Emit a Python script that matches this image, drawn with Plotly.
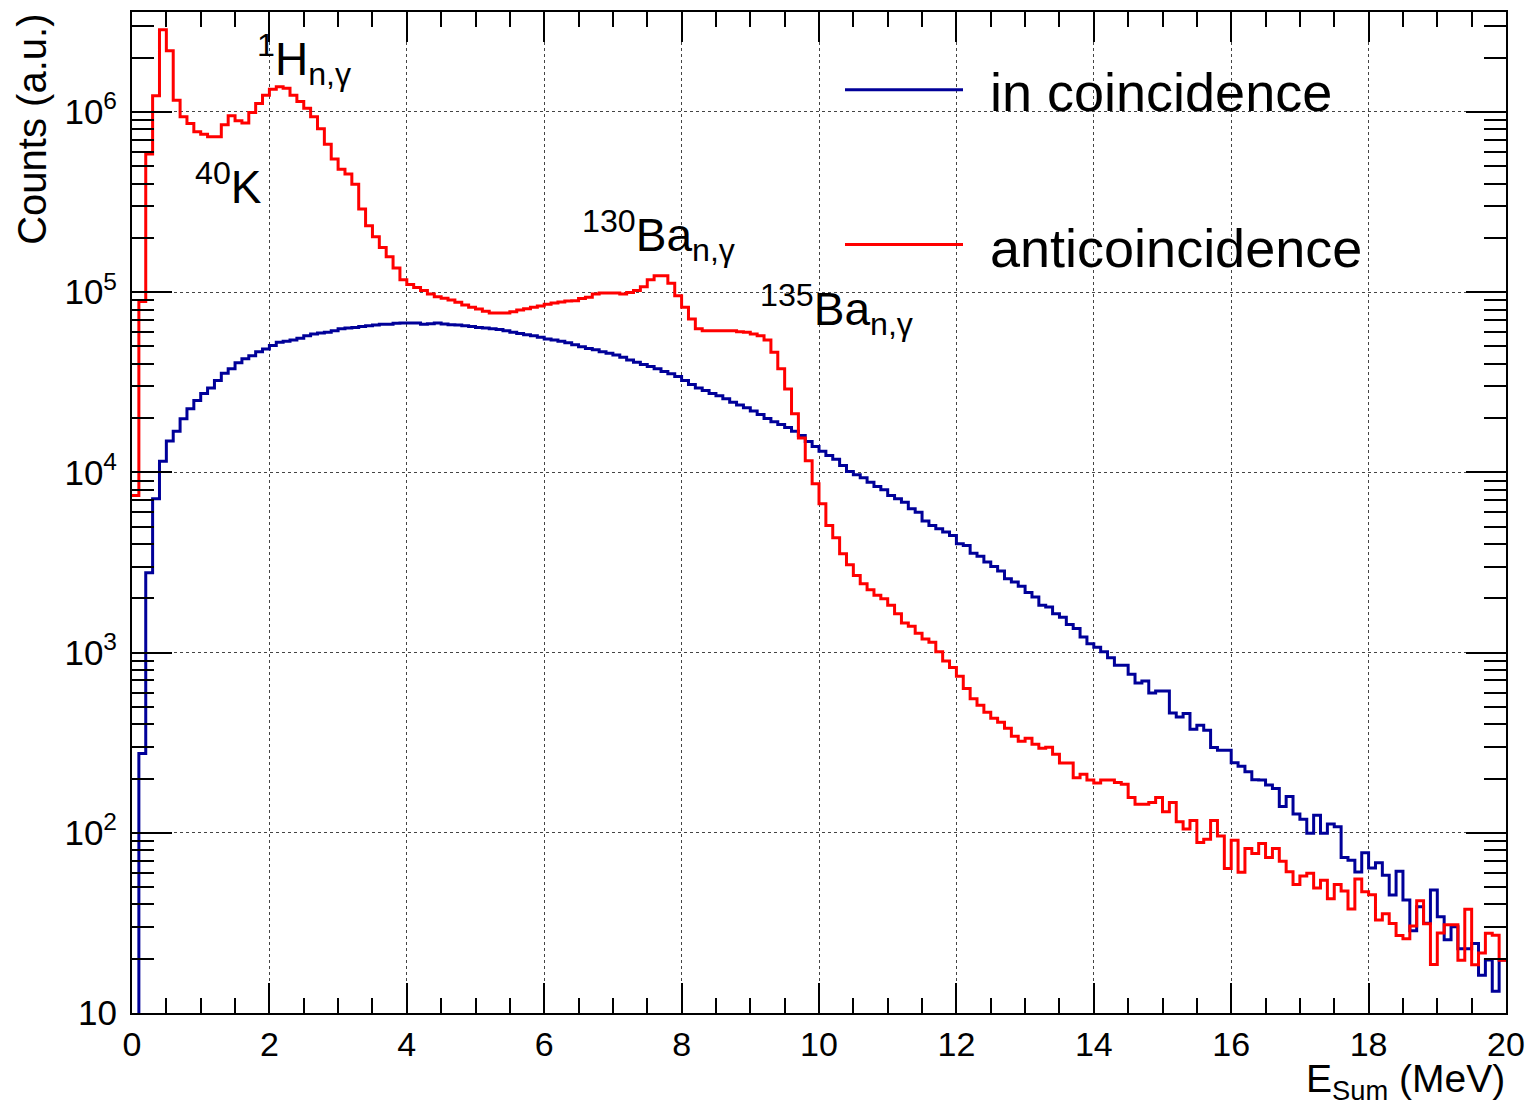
import numpy as np
import plotly.graph_objects as go

# ---------------- data ----------------
bin_width = 0.1  # MeV
e_min, e_max = 0.0, 20.0

# in coincidence (blue), 200 bins of 0.1 MeV
coincidence = [
    2, 275, 2770, 7130, 11500, 14900, 16900, 19800, 22500, 25000,
    27400, 29400, 32300, 35400, 37500, 40500, 42600, 44400, 46700, 48400,
    50500, 52600, 53300, 54300, 55400, 57300, 58600, 59300, 59900, 61100,
    62500, 63200, 63700, 64500, 65100, 65700, 66200, 66400, 67200, 67400,
    67400, 67400, 66400, 66800, 67400, 66600, 65900, 65700, 65100, 64500,
    63700, 63200, 62500, 61900, 61100, 59800, 59000, 58000, 57300, 56100,
    54900, 54300, 53300, 52400, 51000, 49800, 48700, 47800, 46700, 45700,
    44800, 43500, 42000, 40800, 39600, 38600, 37500, 36200, 35200, 34000,
    32300, 30700, 29400, 28400, 27400, 26600, 25600, 24500, 23600, 22800,
    21900, 20900, 19900, 19100, 18400, 17700, 16900, 16000, 14800, 13900,
    13100, 12400, 11800, 10900, 10100, 9690, 9320, 8810, 8340, 8000,
    7430, 7130, 6830, 6280, 6010, 5360, 5070, 4860, 4660, 4460,
    4020, 3930, 3560, 3420, 3180, 3000, 2830, 2570, 2460, 2330,
    2150, 2030, 1830, 1790, 1640, 1570, 1430, 1360, 1220, 1120,
    1070, 1010, 937, 849, 849, 757, 677, 695, 596, 612,
    612, 462, 439, 459, 375, 395, 371, 297, 287, 287,
    245, 234, 218, 197, 196, 184, 176, 140, 159, 127,
    119, 99.5, 125, 99.5, 112, 108, 73.0, 70.5, 60.5, 77.4,
    63.8, 68.1, 58.2, 45.1, 61.1, 42.3, 28.6, 38.8, 31.5, 48.1,
    34.2, 25.5, 30.1, 22.7, 22.7, 24.3, 16.2, 19.7, 13.2, 19.7,
]

# anticoincidence (red), 200 bins of 0.1 MeV
anticoincidence = [
    7430, 88800, 583000, 1230000, 2850000, 2180000, 1160000, 938000, 861000, 775000,
    752000, 727000, 727000, 847000, 950000, 892000, 866000, 991000, 1112000, 1238000,
    1336000, 1376000, 1353000, 1238000, 1141000, 1048000, 938000, 805000, 662000, 547000,
    481000, 452000, 397000, 289000, 233000, 203000, 177000, 157000, 136000, 117000,
    110000, 106000, 102000, 97600, 94300, 92300, 90400, 87700, 84800, 82300,
    80600, 78200, 76600, 76600, 76600, 77900, 79600, 80900, 82300, 83700,
    85500, 87000, 88100, 89300, 89600, 92200, 93500, 97600, 98900, 98900,
    98900, 97600, 99600, 102000, 107000, 117000, 123000, 123000, 112000, 95500,
    82300, 71000, 62500, 61100, 61100, 61100, 61100, 61100, 60300, 59800,
    58600, 57300, 54300, 46300, 37500, 29000, 21100, 15500, 11600, 8640,
    6690, 5070, 4330, 3530, 3070, 2680, 2410, 2230, 2080, 1990,
    1830, 1640, 1460, 1400, 1280, 1190, 1140, 1010, 897, 825,
    738, 631, 555, 510, 466, 432, 410, 380, 343, 322,
    334, 310, 294, 298, 273, 244, 244, 202, 211, 196,
    189, 196, 196, 190, 186, 157, 144, 144, 147, 157,
    131, 147, 115, 105, 117, 88.3, 92.2, 117, 96.1, 63.4,
    91.0, 60.3, 81.8, 76.8, 87.2, 73.0, 81.8, 69.6, 60.7, 51.6,
    57.5, 59.7, 49.4, 54.6, 43.0, 51.6, 47.5, 37.8, 55.4, 47.0,
    45.3, 32.8, 35.5, 31.4, 26.9, 25.8, 30.4, 41.9, 31.3, 18.6,
    27.8, 30.9, 30.9, 19.6, 37.6, 18.5, 21.5, 27.7, 27.0, 19.6,
]

x_tick_vals = [0, 2, 4, 6, 8, 10, 12, 14, 16, 18, 20]
y_tick_vals = [10, 100, 1000, 10000, 100000, 1000000]
y_tick_text = ["10", "10<sup>2</sup>", "10<sup>3</sup>", "10<sup>4</sup>",
               "10<sup>5</sup>", "10<sup>6</sup>"]

series_names = ["in coincidence", "anticoincidence"]
series_colors = ["#000099", "#ff0000"]

# ---------------- figure ----------------
n_bins = len(coincidence)
edges = e_min + bin_width * np.arange(n_bins + 1)

FONT = "Liberation Sans, Arial, Helvetica, sans-serif"

fig = go.Figure()
for name, vals, col in zip(series_names, [coincidence, anticoincidence], series_colors):
    yv = list(vals) + [vals[-1]]
    fig.add_trace(go.Scatter(
        x=edges, y=yv, mode="lines", line=dict(shape="hv", color=col, width=3),
        name=name, showlegend=False, hoverinfo="skip"))

# page has an 8 px body margin: size the figure so the plot frame lands
# where the reference has it (screen px 132..1506 x 10..1013)
OFF = 8
W, H = 1526, 1099
L, R, T, B = 124, 28, 2, 94
pw, ph = W - L - R, H - T - B


def px(x):  # screen pixel -> paper x
    return (x - OFF - L) / pw


def py(y):  # screen pixel -> paper y
    return (H - B - (y - OFF)) / ph


minor_y = [m * 10 ** k for k in range(0, 7) for m in range(2, 10)]

fig.update_layout(
    width=W, height=H,
    margin=dict(l=L, r=R, t=T, b=B),
    paper_bgcolor="white", plot_bgcolor="white",
    font=dict(family=FONT, color="black"),
    xaxis=dict(
        range=[e_min, e_max], showline=True, linecolor="black", linewidth=2,
        mirror="allticks", ticks="inside", ticklen=30, tickwidth=1.5, tickcolor="black",
        tickmode="array", tickvals=x_tick_vals, ticktext=[str(v) for v in x_tick_vals],
        tickfont=dict(size=34, family=FONT),
        showgrid=True, gridcolor="#444444", griddash="dot", gridwidth=1.2,
        minor=dict(ticks="inside", ticklen=15, tickwidth=1.5, tickcolor="black",
                   dtick=0.5, tick0=0, showgrid=False),
        zeroline=False,
    ),
    yaxis=dict(
        type="log", range=[1, 6.554], showline=True, linecolor="black", linewidth=2,
        mirror="allticks", ticks="inside", ticklen=40, tickwidth=1.5, tickcolor="black",
        tickmode="array", tickvals=y_tick_vals, ticktext=y_tick_text,
        tickfont=dict(size=35, family=FONT), ticklabelstandoff=6,
        showgrid=True, gridcolor="#444444", griddash="dot", gridwidth=1.2,
        minor=dict(ticks="inside", ticklen=22, tickwidth=1.5, tickcolor="black",
                   tickmode="array", tickvals=minor_y, showgrid=False),
        zeroline=False,
    ),
)

# legend (drawn manually to mimic ROOT TLegend)
leg_rows = [(88, 90), (243, 246)]
for (ly, ty), name, col in zip(leg_rows, series_names, series_colors):
    fig.add_shape(type="line", xref="paper", yref="paper",
                  x0=px(845), x1=px(963), y0=py(ly), y1=py(ly),
                  line=dict(color=col, width=3))
    fig.add_annotation(xref="paper", yref="paper", x=px(988), y=py(ty),
                       xanchor="left", yanchor="middle", text=name, showarrow=False,
                       font=dict(size=54, family=FONT, color="black"))

# peak labels
labels = [
    ("<sup>1</sup>H<sub>n,γ</sub>", 255, 58),
    ("<sup>40</sup>K", 193, 182),
    ("<sup>130</sup>Ba<sub>n,γ</sub>", 580, 234),
    ("<sup>135</sup>Ba<sub>n,γ</sub>", 758, 308),
]
for txt, lx, ly in labels:
    fig.add_annotation(xref="paper", yref="paper", x=px(lx), y=py(ly),
                       xanchor="left", yanchor="middle", text=txt, showarrow=False,
                       font=dict(size=46, family=FONT, color="black"))

# axis titles (ROOT-style, right/top aligned)
fig.add_annotation(xref="paper", yref="paper", x=px(1507), y=py(1082),
                   xanchor="right", yanchor="middle",
                   text="E<sub>Sum</sub> (MeV)", showarrow=False,
                   font=dict(size=39, family=FONT, color="black"))
fig.add_annotation(xref="paper", yref="paper", x=px(32), y=py(128),
                   xanchor="center", yanchor="middle", textangle=-90,
                   text="Counts (a.u.)", showarrow=False,
                   font=dict(size=40, family=FONT, color="black"))

fig.write_html("out.html")
